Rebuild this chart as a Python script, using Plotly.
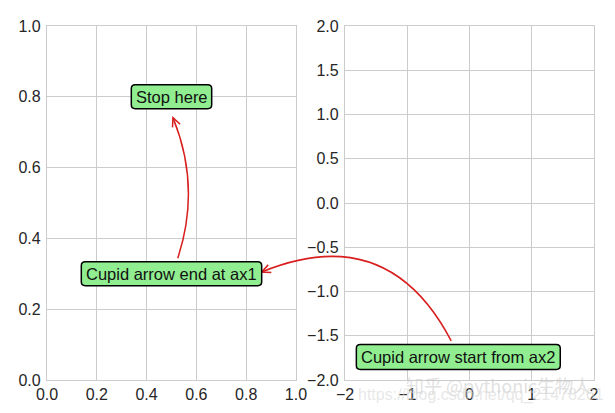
import math
import plotly.graph_objects as go
from plotly.subplots import make_subplots

# ---------------- data ----------------
AX1_XR = [0, 1]
AX1_YR = [0, 1]
AX2_XR = [-2, 2]
AX2_YR = [-2, 2]

ax1_xticks = [0.0, 0.2, 0.4, 0.6, 0.8, 1.0]
ax1_yticks = [0.0, 0.2, 0.4, 0.6, 0.8, 1.0]
ax2_xticks = [-2, -1, 0, 1, 2]
ax2_yticks = [-2.0, -1.5, -1.0, -0.5, 0.0, 0.5, 1.0, 1.5, 2.0]

label_texts = ["Stop here", "Cupid arrow end at ax1", "Cupid arrow start from ax2"]
label_axes = ["ax1", "ax1", "ax2"]
label_x = [0.5, 0.5, -0.18]
label_y = [0.8, 0.3, -1.74]

arrow_from_axes = ["ax2", "ax1"]
arrow_from_x = [-0.294, 0.525]
arrow_from_y = [-1.558, 0.344]
arrow_to_axes = ["ax1", "ax1"]
arrow_to_x = [0.862, 0.506]
arrow_to_y = [0.305, 0.741]
arrow_rad = [0.457, 0.184]

watermark_cn = "知乎 @pythonic生物人"
watermark_url = "https://blog.csdn.net/qq_21478261"
watermark_cn_pos = [0.47, -2.055]     # ax2 data coords
watermark_url_pos = [0.19, -2.175]    # ax2 data coords

# ---------------- style / layout ----------------
PAGE_OFF = 8                      # default body margin of the html page
W, H = 615 - PAGE_OFF, 413 - PAGE_OFF
M_L, M_R, M_T, M_B = 41 - PAGE_OFF, 16, 18 - PAGE_OFF, 33
AX1_DOM = [0.0, 0.4552]
AX2_DOM = [0.5448, 1.0]

box_w = [82, 184, 208]            # label box sizes (px)
box_h = [24.5, 24.5, 25.5]
BOX_R = 4

RED = "#d81e1e"
GRID = "#cccccc"
TXT = "#262626"
FONT = "Liberation Sans, Arial, sans-serif"

PW = W - M_L - M_R
PH = H - M_T - M_B
AXES = {"ax1": (AX1_DOM, AX1_XR, AX1_YR), "ax2": (AX2_DOM, AX2_XR, AX2_YR)}


def to_px(ax, x, y):
    dom, xr, yr = AXES[ax]
    px = M_L + PW * (dom[0] + (dom[1] - dom[0]) * (x - xr[0]) / (xr[1] - xr[0]))
    py = M_T + PH * (1 - (y - yr[0]) / (yr[1] - yr[0]))
    return px, py


def to_paper(px, py):
    return (px - M_L) / PW, (H - M_B - py) / PH


def P(px, py):
    a, b = to_paper(px, py)
    return f"{a:.6f},{b:.6f}"


fig = make_subplots(rows=1, cols=2)
fig.add_trace(go.Scatter(x=[], y=[], showlegend=False), row=1, col=1)
fig.add_trace(go.Scatter(x=[], y=[], showlegend=False), row=1, col=2)

axis_common = dict(
    showgrid=True, gridcolor=GRID, gridwidth=1, zeroline=False,
    showline=True, mirror=True, linecolor=GRID, linewidth=1.3,
    ticks="", tickfont=dict(family=FONT, size=16, color=TXT),
)
fig.update_layout(
    xaxis=dict(domain=AX1_DOM, range=AX1_XR, tickvals=ax1_xticks, tickformat=".1f", **axis_common),
    yaxis=dict(domain=[0, 1], range=AX1_YR, tickvals=ax1_yticks, tickformat=".1f",
               ticklabelstandoff=2, **axis_common),
    xaxis2=dict(domain=AX2_DOM, range=AX2_XR, tickvals=ax2_xticks, tickformat="d", **axis_common),
    yaxis2=dict(domain=[0, 1], range=AX2_YR, tickvals=ax2_yticks, tickformat=".1f",
                ticklabelstandoff=2, **axis_common),
)

# curved arrows (arc3-like quadratic bezier) with open "->" heads
HEAD_L, HEAD_W = 9.0, 4.2
for fa, fx, fy, ta, tx, ty, rad in zip(arrow_from_axes, arrow_from_x, arrow_from_y,
                                       arrow_to_axes, arrow_to_x, arrow_to_y, arrow_rad):
    sx, sy = to_px(fa, fx, fy)
    ex, ey = to_px(ta, tx, ty)
    syu, eyu = -sy, -ey
    mx, myu = (sx + ex) / 2, (syu + eyu) / 2
    dx, dyu = ex - sx, eyu - syu
    cx, cyu = mx + rad * dyu, myu - rad * dx
    cy = -cyu
    fig.add_shape(type="path", xref="paper", yref="paper",
                  path=f"M {P(sx, sy)} Q {P(cx, cy)} {P(ex, ey)}",
                  line=dict(color=RED, width=1.5))
    ux, uy = ex - cx, ey - cy
    n = math.hypot(ux, uy)
    ux, uy = ux / n, uy / n
    nx, ny = -uy, ux
    fig.add_shape(type="path", xref="paper", yref="paper",
                  path=(f"M {P(ex - HEAD_L * ux + HEAD_W * nx, ey - HEAD_L * uy + HEAD_W * ny)}"
                        f" L {P(ex, ey)}"
                        f" L {P(ex - HEAD_L * ux - HEAD_W * nx, ey - HEAD_L * uy - HEAD_W * ny)}"),
                  line=dict(color=RED, width=1.5))

# rounded label boxes + text
for t, ax, x, y, bw, bh in zip(label_texts, label_axes, label_x, label_y, box_w, box_h):
    cx, cy = to_px(ax, x, y)
    x0, x1 = cx - bw / 2, cx + bw / 2
    y0, y1 = cy - bh / 2, cy + bh / 2
    r = BOX_R
    path = (f"M {P(x0 + r, y0)} L {P(x1 - r, y0)} Q {P(x1, y0)} {P(x1, y0 + r)}"
            f" L {P(x1, y1 - r)} Q {P(x1, y1)} {P(x1 - r, y1)}"
            f" L {P(x0 + r, y1)} Q {P(x0, y1)} {P(x0, y1 - r)}"
            f" L {P(x0, y0 + r)} Q {P(x0, y0)} {P(x0 + r, y0)} Z")
    fig.add_shape(type="path", xref="paper", yref="paper", path=path,
                  fillcolor="#90ee90", line=dict(color="#000000", width=1.5))
    xr, yr = ("x", "y") if ax == "ax1" else ("x2", "y2")
    fig.add_annotation(text=t, x=x, y=y, xref=xr, yref=yr, showarrow=False,
                       font=dict(family=FONT, size=16.5, color="#111111"),
                       xanchor="center", yanchor="middle")

# watermark (positioned from ax2 data coords, drawn in paper coords)
wx, wy = to_paper(*to_px("ax2", *watermark_cn_pos))
fig.add_annotation(text=watermark_cn, x=wx, y=wy, xref="paper", yref="paper", showarrow=False,
                   font=dict(family="Noto Sans CJK SC", size=18, color="rgba(200,200,200,0.55)"),
                   xanchor="center", yanchor="middle")
ux_, uy_ = to_paper(*to_px("ax2", *watermark_url_pos))
fig.add_annotation(text=watermark_url, x=ux_, y=uy_, xref="paper", yref="paper", showarrow=False,
                   font=dict(family=FONT, size=16, color="rgba(215,215,215,0.6)"),
                   xanchor="center", yanchor="middle")

fig.update_layout(width=W, height=H, margin=dict(l=M_L, r=M_R, t=M_T, b=M_B),
                  paper_bgcolor="white", plot_bgcolor="white", showlegend=False)

fig.write_html("out.html")
